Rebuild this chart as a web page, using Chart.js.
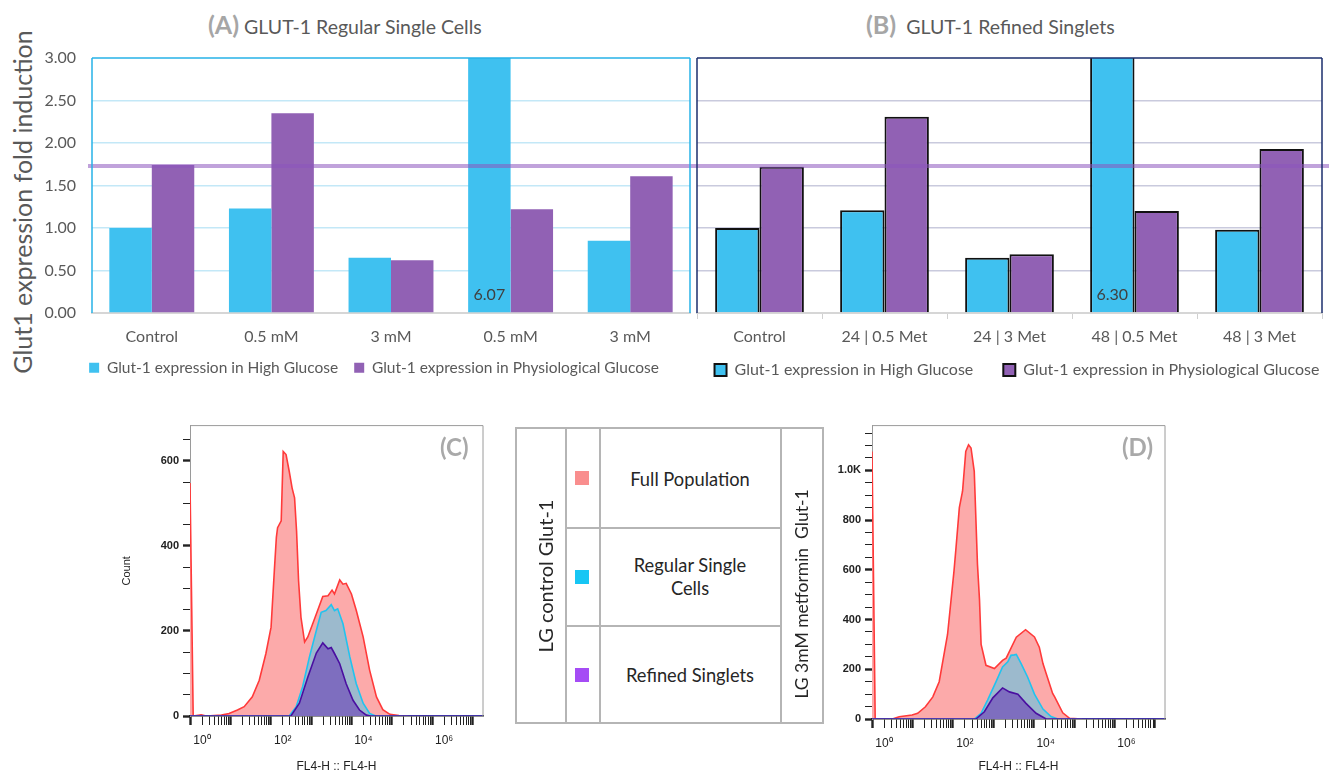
<!DOCTYPE html>
<html lang="en">
<head>
<meta charset="UTF-8">
<title>GLUT-1 expression and flow cytometry</title>
<style>
  html, body { margin: 0; padding: 0; background: #fff; }
  body { position: relative; width: 1329px; height: 774px; overflow: hidden; font-family: Lato, "Open Sans", sans-serif; }
  canvas { position: absolute; }
  .title { position: absolute; top: 9px; white-space: nowrap; color: #595959; font-size: 19.5px; }
  .title b { color: #a6a6a6; font-size: 25px; font-weight: 700; }
  .ytitle { position: absolute; left: 22px; top: 202px; transform: translate(-50%, -50%) rotate(-90deg); white-space: nowrap; font-size: 25px; color: #595959; }
  .tag { position: absolute; font-size: 24px; font-weight: 700; color: #a9a9a9; }
  /* middle key */
  .key div { position: absolute; background: #b5b5b5; }
  .key .h { height: 1.5px; }
  .key .v { width: 1.5px; }
  .key .sw { width: 14px; height: 14px; }
  .key span { position: absolute; transform: translate(-50%, -50%); white-space: nowrap; color: #262626; text-align: center; }
  .key .lab { font-size: 18.3px; line-height: 23px; }
  .key .rot { font-size: 20px; transform: translate(-50%, -50%) rotate(-90deg); }
</style>
</head>
<body>
  <div class="title" style="left:208px;"><b>(A)</b> GLUT-1 Regular Single Cells</div>
  <div class="title" style="left:866px;"><b>(B)</b>&nbsp; GLUT-1 Refined Singlets</div>
  <div class="ytitle">Glut1 expression fold induction</div>

  <canvas id="chartA" width="695" height="395" style="left:0;top:0;"></canvas>
  <canvas id="chartB" width="679" height="409" style="left:650px;top:0;"></canvas>
  <canvas id="chartC" width="385" height="359" style="left:110px;top:415px;"></canvas>
  <canvas id="chartD" width="375" height="359" style="left:800px;top:415px;"></canvas>

  <div class="tag" style="left:440px;top:432px;">(C)</div>
  <div class="tag" style="left:1122px;top:432px;">(D)</div>

  <div class="key">
    <div class="h" style="left:515px;top:427px;width:309px;"></div>
    <div class="h" style="left:515px;top:722px;width:309px;"></div>
    <div class="h" style="left:565px;top:527px;width:215px;"></div>
    <div class="h" style="left:565px;top:625px;width:215px;"></div>
    <div class="v" style="left:515px;top:427px;height:296px;"></div>
    <div class="v" style="left:565px;top:427px;height:296px;"></div>
    <div class="v" style="left:599px;top:427px;height:296px;"></div>
    <div class="v" style="left:780px;top:427px;height:296px;"></div>
    <div class="v" style="left:822px;top:427px;height:296px;"></div>
    <div class="sw" style="left:575px;top:471px;background:#f98e8e;"></div>
    <div class="sw" style="left:575px;top:570px;background:#17c6f4;"></div>
    <div class="sw" style="left:575px;top:668px;background:#a54cf5;"></div>
    <span class="lab" style="left:690px;top:479px;">Full Population</span>
    <span class="lab" style="left:690px;top:577px;">Regular Single<br>Cells</span>
    <span class="lab" style="left:690px;top:675px;">Refined Singlets</span>
    <span class="rot" style="left:545px;top:576px;">LG control Glut-1</span>
    <span class="rot" style="left:801px;top:594px;font-size:17.5px;">LG 3mM metformin&nbsp; Glut-1</span>
  </div>

<script src="https://cdn.jsdelivr.net/npm/chart.js"></script>
<script>
// ---- bar chart data (fold induction) ----
const categoriesA = ['Control', '0.5 mM', '3 mM', '0.5 mM', '3 mM'];
const highGlucoseA = [1.00, 1.23, 0.65, 6.07, 0.85];
const physioGlucoseA = [1.74, 2.35, 0.62, 1.22, 1.61];

const categoriesB = ['Control', '24 | 0.5 Met', '24 | 3 Met', '48 | 0.5 Met', '48 | 3 Met'];
const highGlucoseB = [1.00, 1.21, 0.65, 6.30, 0.98];
const physioGlucoseB = [1.72, 2.31, 0.69, 1.20, 1.93];

const seriesNames = ['Glut-1 expression in High Glucose', 'Glut-1 expression in Physiological Glucose'];
const referenceLevel = 1.73;

// ---- histogram data: [FL4-H, count] ----
const fullPopC = [[1,548],[1.2,0],[1.9,3],[2.5,0],[4,1],[6,2],[9.3,6],[15,14],[22,22],[35,45],[52,84],[76,147],[102,209],
  [123,342],[138,420],[148,443],[182,459],[204,622],[240,615],[288,575],[339,536],[390,513],[437,435],[490,318],[562,232],
  [692,174],[830,186],[1350,240],[1950,281],[2630,283],[3310,296],[3800,287],[5130,320],[6170,310],[7410,312],[10000,287],
  [13200,248],[19500,186],[28200,108],[41700,45],[60000,15],[90000,4],[150000,1],[257000,0]];
const singleCellsC = [[1,0],[288,0],[427,22],[617,69],[912,139],[1350,201],[1780,244],[2340,248],[3160,262],[3800,248],
  [4570,252],[6170,217],[9120,139],[13180,76],[19500,30],[28200,6],[40000,0],[18000000,0]];
const refinedC = [[1,0],[316,0],[513,30],[832,92],[1350,148],[1950,172],[2630,158],[3160,161],[3800,147],[5130,123],
  [7410,76],[10960,37],[15850,14],[23440,2],[30000,0],[18000000,0]];

const fullPopD = [[1,1076],[1.2,0],[3.2,0],[4.7,9],[9.8,16],[13.5,23],[21,49],[32,89],[46,150],[74,340],[107,596],[120,689],
  [145,850],[174,916],[209,1076],[245,1103],[282,1090],[339,996],[407,623],[457,480],[501,300],[661,216],[1070,203],
  [1700,236],[2090,245],[3720,329],[6310,359],[10470,330],[13800,289],[17000,223],[20400,183],[29500,103],[33100,89],
  [52500,25],[77600,3],[158000,0]];
const singleCellsD = [[1,0],[339,0],[501,23],[724,76],[1175,150],[1700,209],[2290,230],[2750,256],[3310,258],[3720,260],
  [4900,223],[7080,169],[10470,100],[17000,40],[26900,10],[39800,0],[18000000,0]];
const refinedD = [[1,0],[372,0],[603,29],[977,85],[1700,125],[2510,109],[4070,100],[6460,63],[11500,23],[20400,0],[18000000,0]];

const histLabels = ['Refined Singlets', 'Regular Single Cells', 'Full Population'];

Chart.defaults.animation = false;
Chart.defaults.font.family = 'Lato, "Open Sans", sans-serif';

// outline of the plot area on chosen sides
const framePlugin = {
  id: 'frame',
  afterDraw(chart, args, opts) {
    const a = chart.chartArea, ctx = chart.ctx;
    ctx.save();
    ctx.strokeStyle = opts.color;
    ctx.lineWidth = opts.width;
    ctx.beginPath();
    if (opts.left) { ctx.moveTo(a.left, a.bottom); ctx.lineTo(a.left, a.top); }
    ctx.moveTo(a.left, a.top); ctx.lineTo(a.right, a.top);
    ctx.moveTo(a.right, a.top); ctx.lineTo(a.right, a.bottom);
    ctx.stroke();
    ctx.restore();
  }
};

// nudge the legend box after layout
const legendMove = {
  id: 'legendMove',
  afterLayout(chart, args, opts) {
    const l = chart.legend;
    l.left += opts.dx; l.right += opts.dx;
    l.top += opts.dy; l.bottom += opts.dy;
  }
};

// horizontal lavender reference line + value label on clipped bars
const refPlugin = {
  id: 'refLine',
  afterDatasetsDraw(chart, args, opts) {
    const ctx = chart.ctx, y = chart.scales.y, a = chart.chartArea;
    ctx.save();
    chart.data.datasets.forEach((ds, i) => {
      chart.getDatasetMeta(i).data.forEach((bar, j) => {
        if (ds.data[j] > y.max) {
          ctx.fillStyle = '#404040';
          ctx.font = '16px Lato, sans-serif';
          ctx.textAlign = 'center';
          ctx.textBaseline = 'middle';
          ctx.fillText(ds.data[j].toFixed(2), bar.x, a.bottom - 18);
        }
      });
    });
    const py = y.getPixelForValue(opts.value);
    ctx.strokeStyle = 'rgba(140, 85, 190, 0.55)';
    ctx.lineWidth = 4;
    ctx.beginPath();
    ctx.moveTo(a.left - opts.startGap, py);
    ctx.lineTo(chart.width, py);
    ctx.stroke();
    ctx.restore();
  }
};

function barChart(id, cats, hg, pg, o) {
  return new Chart(document.getElementById(id), {
    type: 'bar',
    data: {
      labels: cats,
      datasets: [
        { label: seriesNames[0], data: hg, backgroundColor: '#3fc1f0', borderColor: '#111', borderWidth: o.barBorder },
        { label: seriesNames[1], data: pg, backgroundColor: '#9161b4', borderColor: '#111', borderWidth: o.barBorder }
      ]
    },
    options: {
      responsive: false,
      layout: { padding: o.padding },
      datasets: { bar: { categoryPercentage: 0.71, barPercentage: 1.0 } },
      scales: {
        x: {
          afterFit: s => { s.height = 40; },
          grid: { drawOnChartArea: false, drawTicks: o.xTicks, tickLength: 6, color: '#d0d0d0' },
          border: { color: '#d6d6d6', width: 2 },
          ticks: { color: '#595959', font: { size: 16 }, padding: o.xPad, maxRotation: 0 }
        },
        y: {
          min: 0, max: 3,
          afterFit: s => { s.width = o.yWidth; },
          border: { display: false },
          grid: { drawTicks: false, color: c => (c.tick.value === 0 || c.tick.value === 3) ? 'rgba(0,0,0,0)' : o.gridColor, lineWidth: 1.5 },
          ticks: { display: o.yLabels, stepSize: 0.5, padding: 16, color: '#595959', font: { size: 16 }, callback: v => v.toFixed(2) }
        }
      },
      plugins: {
        legend: {
          position: 'bottom',
          labels: { boxWidth: o.box, boxHeight: o.box, padding: o.legendPad, color: '#595959', font: { size: o.legendFont } }
        },
        tooltip: { enabled: false },
        frame: { color: o.frameColor, width: 1.5, left: true },
        legendMove: { dx: o.dx, dy: o.dy },
        refLine: { value: referenceLevel, startGap: o.startGap }
      }
    },
    plugins: [framePlugin, refPlugin, legendMove]
  });
}

barChart('chartA', categoriesA, highGlucoseA, physioGlucoseA, {
  padding: { left: 30, top: 58, right: 5, bottom: 0.5 }, yWidth: 62, yLabels: true, legendFont: 15.5,
  xTicks: false, xPad: 14, barBorder: 0, box: 10, legendPad: 16, gridColor: '#c3e8f7', frameColor: '#27b3e8',
  startGap: 4, dx: 14, dy: -9
});
barChart('chartB', categoriesB, highGlucoseB, physioGlucoseB, {
  padding: { left: 0, top: 58, right: 7, bottom: 0 }, yWidth: 47, yLabels: false, legendFont: 16,
  xTicks: true, xPad: 8, barBorder: 2, box: 12, legendPad: 30, gridColor: '#c9cadd', frameColor: '#1c2f6e',
  startGap: 2, dx: 31, dy: -21
});

// ---- flow histograms ----
const sup = { 0: '\u2070', 2: '\u00b2', 4: '\u2074', 6: '\u2076' };
function isDecade(v) { const l = Math.log10(v); return Math.abs(l - Math.round(l)) < 1e-9; }

function histChart(id, series, o) {
  const toXY = arr => arr.map(p => ({ x: p[0], y: p[1] }));
  const line = ['#4a0fa0', '#21c3ef', '#ff3a3a'];
  const fill = ['#7e6ebf', '#9cbacd', '#fcaaaa'];
  const axisFont = '"Liberation Sans", Arial, sans-serif';
  return new Chart(document.getElementById(id), {
    type: 'line',
    data: {
      datasets: series.map((s, i) => ({
        label: histLabels[i], data: toXY(s), borderColor: line[i], backgroundColor: fill[i],
        borderWidth: 1.6, pointRadius: 0, fill: 'origin', tension: 0
      }))
    },
    options: {
      responsive: false,
      layout: { padding: o.padding },
      scales: {
        x: {
          type: 'logarithmic', min: 1, max: o.xMax,
          afterFit: s => { s.height = o.xHeight; },
          afterBuildTicks: s => {
            const t = [];
            for (let e = 0; e <= 7; e++) {
              for (let m = 1; m <= 9; m++) {
                const v = m * Math.pow(10, e);
                if (v <= s.max) t.push({ value: v });
              }
            }
            s.ticks = t;
          },
          grid: { drawOnChartArea: false, tickLength: 9, color: '#222', tickWidth: c => isDecade(c.tick.value) ? 2.4 : 1 },
          border: { color: '#222', width: 1.5 },
          ticks: {
            autoSkip: false, maxRotation: 0, labelOffset: 12, padding: 8,
            color: '#222', font: { family: axisFont, size: 12 },
            callback: v => {
              if (!isDecade(v)) return '';
              const e = Math.round(Math.log10(v));
              return e % 2 === 0 ? '10' + sup[e] : '';
            }
          },
          title: { display: true, text: 'FL4-H :: FL4-H', color: '#222', padding: { top: 0, bottom: 0 },
            font: { family: axisFont, size: 12 } }
        },
        y: {
          min: 0, max: o.yMax,
          afterFit: s => { s.width = o.yWidth; },
          grid: { drawOnChartArea: false, tickLength: 7, color: '#222', tickWidth: c => c.tick.value % 200 === 0 ? 2.4 : 1 },
          border: { color: '#9a9a9a', width: 1 },
          ticks: {
            stepSize: 50, includeBounds: false, autoSkip: false, padding: 4, color: '#222',
            font: { family: axisFont, size: 11, weight: 'bold' },
            callback: v => v % 200 !== 0 ? '' : (v >= 1000 ? (v / 1000).toFixed(1) + 'K' : v)
          },
          title: { display: o.yTitle, text: 'Count', color: '#222', padding: { top: 10 },
            font: { family: axisFont, size: 11 } }
        }
      },
      plugins: {
        legend: { display: false },
        tooltip: { enabled: false },
        frame: { color: '#9a9a9a', width: 1, left: false }
      }
    },
    plugins: [framePlugin]
  });
}

histChart('chartC', [refinedC, singleCellsC, fullPopC], {
  padding: { left: 0, top: 9, right: 12, bottom: 0 }, xHeight: 58, yWidth: 80, xMax: 18200000, yMax: 683, yTitle: true
});
histChart('chartD', [refinedD, singleCellsD, fullPopD], {
  padding: { left: 0, top: 9, right: 10, bottom: 0 }, xHeight: 55, yWidth: 72, xMax: 17800000, yMax: 1180, yTitle: false
});
</script>
</body>
</html>
